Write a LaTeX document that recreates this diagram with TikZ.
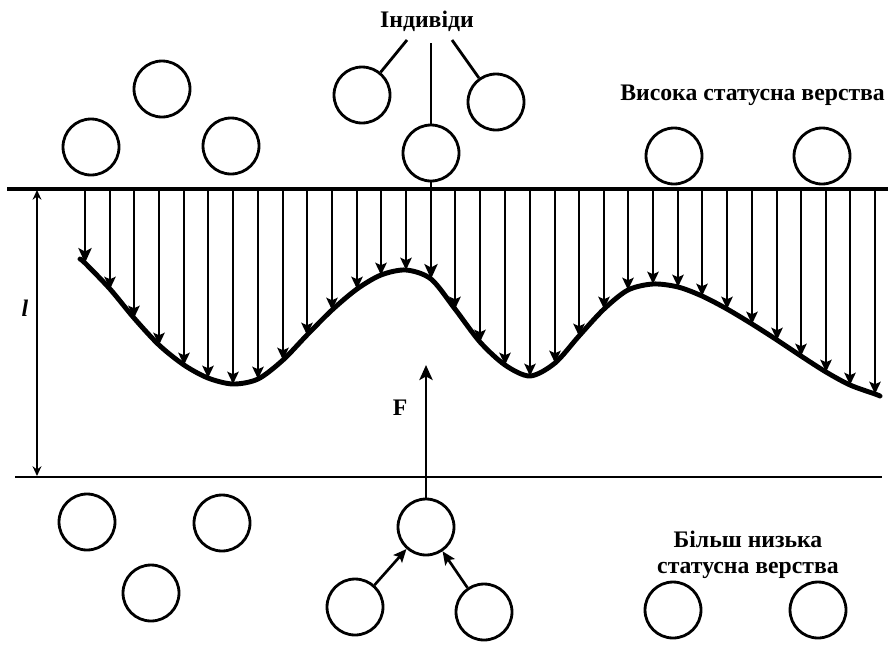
\documentclass[tikz,border=0pt]{standalone}
\usepackage{fontspec}
\setmainfont{Liberation Serif}
\usetikzlibrary{arrows.meta}

\begin{document}
\begin{tikzpicture}[%
    x=0.02cm,
    y=-0.02cm,
    person/.style={%
        draw,
        circle,
        line width=1.6pt,
        inner sep=0pt,
        minimum size=1.12cm
    },
    caption/.style={%
        font=\bfseries\fontsize{13.5}{15}\selectfont,
        align=center,
        inner sep=0pt
    },
    layer/.style={%
        line width=1.6pt
    },
    fall/.style={%
        line width=1.6pt,
        -{Stealth[length=7pt,width=6.5pt,inset=1.5pt]}
    },
    push/.style={%
        line width=1.6pt,
        -{Stealth[length=8.5pt,width=7.5pt,inset=2pt]}
    },
    lift/.style={%
        line width=1.5pt,
        -{Stealth[length=7.5pt,width=6.5pt,inset=1.5pt]}
    },
    curve/.style={%
        line width=2.8pt,
        line cap=round
    }
]
\useasboundingbox (0,0) rectangle (888,646);

% Labels
    \node[caption, anchor=base] (ind) at (427,27) {Індивіди};
    \node[caption, anchor=base west] (high) at (620,100) {Висока статусна верства};
    \node[caption] (low) at (748,555) {Більш низька\\статусна верства};
    \node[caption] (force) at (400,408) {F};
    \node[caption] (len) at (25,308) {\textit{l}};

% Upper layer
    \node[person] (up1) at (162,89) {};
    \node[person] (up2) at (91,147) {};
    \node[person] (up3) at (231,146) {};
    \node[person] (ind1) at (362,95) {};
    \node[person] (ind2) at (431,153) {};
    \node[person] (ind3) at (496,102) {};
    \node[person] (up4) at (674,156) {};
    \node[person] (up5) at (822,156) {};

% Lower layer
    \node[person] (low1) at (87,522) {};
    \node[person] (low2) at (222,523) {};
    \node[person] (low3) at (151,593) {};
    \node[person] (rise) at (426,527) {};
    \node[person] (rise1) at (355,607) {};
    \node[person] (rise2) at (484,612) {};
    \node[person] (low4) at (673,610) {};
    \node[person] (low5) at (818,610) {};

% Borders
    \coordinate (topL) at (7,189);
    \coordinate (topR) at (888,189);
    \coordinate (botL) at (15,477);
    \coordinate (botR) at (882,477);
    \coordinate (dimT) at (37,190);
    \coordinate (dimB) at (37,476);
    \coordinate (fTip) at (426,365);
    \coordinate (indL) at (407,40);
    \coordinate (indM) at (431,43);
    \coordinate (indR) at (452,40);

% Curve points
    \coordinate (cs) at (80,259);
    \coordinate (c0) at (85,263);
    \coordinate (c1) at (110,289);
    \coordinate (c2) at (134,318);
    \coordinate (c3) at (159,345);
    \coordinate (c4) at (184,365);
    \coordinate (c5) at (208,378);
    \coordinate (c6) at (233,384);
    \coordinate (c7) at (258,379);
    \coordinate (c8) at (283,360);
    \coordinate (c9) at (307,335);
    \coordinate (c10) at (332,310);
    \coordinate (c11) at (357,289);
    \coordinate (c12) at (381,275);
    \coordinate (c13) at (406,270);
    \coordinate (c14) at (431,279);
    \coordinate (c15) at (455,309);
    \coordinate (c16) at (480,342);
    \coordinate (c17) at (505,365);
    \coordinate (c18) at (530,376);
    \coordinate (c19) at (555,363);
    \coordinate (c20) at (579,336);
    \coordinate (c21) at (604,309);
    \coordinate (c22) at (628,290);
    \coordinate (c23) at (653,284);
    \coordinate (c24) at (678,287);
    \coordinate (c25) at (702,296);
    \coordinate (c26) at (727,309);
    \coordinate (c27) at (752,324);
    \coordinate (c28) at (777,340);
    \coordinate (c29) at (801,356);
    \coordinate (c30) at (826,372);
    \coordinate (c31) at (850,385);
    \coordinate (c32) at (875,394);
    \coordinate (ce) at (880,396);

% Lines
\draw[line width=2.2pt] (topL) -- (topR);
\draw[line width=1.3pt] (botL) -- (botR);
\draw[line width=1.2pt, {Stealth[length=5.5pt,width=5pt]}-{Stealth[length=5.5pt,width=5pt]}] (dimT) -- (dimB);

\draw[curve] plot[smooth] coordinates {(cs) (c0) (c1) (c2) (c3) (c4) (c5) (c6) (c7) (c8) (c9) (c10) (c11) (c12) (c13) (c14) (c15) (c16) (c17) (c18) (c19) (c20) (c21) (c22) (c23) (c24) (c25) (c26) (c27) (c28) (c29) (c30) (c31) (c32) (ce)};

\draw[layer] (indL) -- (ind1);
\draw[layer] (indM) -- (ind2);
\draw[layer] (indR) -- (ind3);

% Arrows
\draw[push] (c0 |- topL) -- (c0);
\draw[fall] (c1 |- topL) -- (c1);
\draw[fall] (c2 |- topL) -- (c2);
\draw[fall] (c3 |- topL) -- (c3);
\draw[fall] (c4 |- topL) -- (c4);
\draw[fall] (c5 |- topL) -- (c5);
\draw[fall] (c6 |- topL) -- (c6);
\draw[fall] (c7 |- topL) -- (c7);
\draw[fall] (c8 |- topL) -- (c8);
\draw[fall] (c9 |- topL) -- (c9);
\draw[fall] (c10 |- topL) -- (c10);
\draw[fall] (c11 |- topL) -- (c11);
\draw[fall] (c12 |- topL) -- (c12);
\draw[fall] (c13 |- topL) -- (c13);
\draw[push] (ind2) -- (c14);
\draw[fall] (c15 |- topL) -- (c15);
\draw[fall] (c16 |- topL) -- (c16);
\draw[fall] (c17 |- topL) -- (c17);
\draw[fall] (c18 |- topL) -- (c18);
\draw[fall] (c19 |- topL) -- (c19);
\draw[fall] (c20 |- topL) -- (c20);
\draw[fall] (c21 |- topL) -- (c21);
\draw[fall] (c22 |- topL) -- (c22);
\draw[fall] (c23 |- topL) -- (c23);
\draw[fall] (c24 |- topL) -- (c24);
\draw[fall] (c25 |- topL) -- (c25);
\draw[fall] (c26 |- topL) -- (c26);
\draw[fall] (c27 |- topL) -- (c27);
\draw[fall] (c28 |- topL) -- (c28);
\draw[fall] (c29 |- topL) -- (c29);
\draw[fall] (c30 |- topL) -- (c30);
\draw[fall] (c31 |- topL) -- (c31);
\draw[fall] (c32 |- topL) -- (c32);

\draw[push] (rise) -- (fTip);
\draw[lift] (rise1) -- (rise);
\draw[lift] (rise2) -- (rise);

\end{tikzpicture}
\end{document}
